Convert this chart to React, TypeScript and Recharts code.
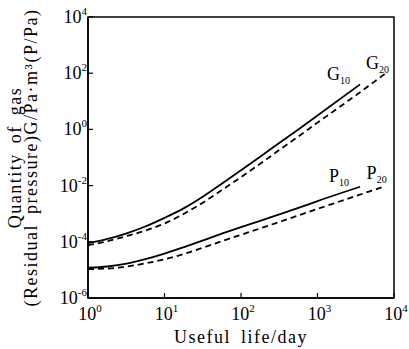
import React from "react";
import { LineChart, Line, XAxis, YAxis, ReferenceArea, ReferenceDot } from "recharts";

const xTicks = [1, 10, 100, 1000, 10000];
const xTickExp = ["0", "1", "2", "3", "4"];
const yTicks = [1e-6, 1e-4, 1e-2, 1, 1e2, 1e4];
const yTickExp = ["-6", "-4", "-2", "0", "2", "4"];

const g10X = [1, 1.8, 3.2, 5.6, 10, 18, 32, 56, 100, 178, 316, 562, 1000, 3600];
const g10Y = [8.9e-5, 1.26e-4, 2.0e-4, 3.5e-4, 7.1e-4, 1.58e-3, 4.1e-3, 1.16e-2, 3.5e-2, 0.107, 0.33, 1.0, 3.1, 40];

const g20X = [1, 1.8, 3.2, 5.6, 10, 18, 32, 56, 100, 178, 316, 562, 1000, 3200, 7600];
const g20Y = [7.6e-5, 1.05e-4, 1.6e-4, 2.5e-4, 4.5e-4, 1.0e-3, 2.5e-3, 6.9e-3, 2.0e-2, 6.0e-2, 0.184, 0.56, 1.74, 16.6, 95];

const p10X = [1, 1.8, 3.2, 5.6, 10, 18, 32, 56, 100, 178, 316, 562, 1000, 3600];
const p10Y = [1.2e-5, 1.32e-5, 1.66e-5, 2.4e-5, 3.8e-5, 6.5e-5, 1.12e-4, 1.95e-4, 3.35e-4, 5.6e-4, 9.4e-4, 1.6e-3, 2.8e-3, 9.1e-3];

const p20X = [1, 1.8, 3.2, 5.6, 10, 18, 32, 56, 100, 178, 316, 562, 1000, 3200, 7100];
const p20Y = [1.07e-5, 1.12e-5, 1.32e-5, 1.7e-5, 2.4e-5, 3.7e-5, 6.2e-5, 1.05e-4, 1.78e-4, 3.0e-4, 5.1e-4, 8.7e-4, 1.48e-3, 4.3e-3, 8.9e-3];

const seriesLabels = [
  { main: "G", sub: "10" },
  { main: "G", sub: "20" },
  { main: "P", sub: "10" },
  { main: "P", sub: "20" },
];

const yTitle1 = "Quantity of gas";
const yTitle2 = "(Residual pressure)G/Pa·m³(P/Pa)";
const xTitle = "Useful life/day";

const build = (xs: number[], ys: number[]) => xs.map((x, i) => ({ x, v: ys[i] }));
const g10 = build(g10X, g10Y);
const g20 = build(g20X, g20Y);
const p10 = build(p10X, p10Y);
const p20 = build(p20X, p20Y);

const FONT = "Liberation Serif, Times New Roman, serif";
const fs = (size: number, extra: any = {}) => ({ fontFamily: FONT, fontSize: size, ...extra });

const XTick = (props: any) => {
  const { x, y, payload } = props;
  const i = xTicks.indexOf(payload.value);
  return (
    <g>
      <line x1={x} y1={y} x2={x} y2={y - 5} stroke="#000" strokeWidth={1.2} />
      <text x={x + 2} y={y + 22} textAnchor="middle" style={fs(18)} fill="#000">
        <tspan>10</tspan>
        <tspan dy={-8} style={fs(11)}>{xTickExp[i]}</tspan>
      </text>
    </g>
  );
};

const YTick = (props: any) => {
  const { x, y, payload } = props;
  const i = yTicks.findIndex((t) => Math.abs(Math.log10(t) - Math.log10(payload.value)) < 1e-6);
  return (
    <g>
      <line x1={x} y1={y} x2={x + 5} y2={y} stroke="#000" strokeWidth={1.2} />
      <text x={x - 1} y={y + 6} textAnchor="end" style={fs(18)} fill="#000">
        <tspan>10</tspan>
        <tspan dy={-8} style={fs(11)}>{yTickExp[i]}</tspan>
      </text>
    </g>
  );
};

const makeSeriesLabel = (idx: number, dx: number, dy: number) => (props: any) => {
  const vb = props.viewBox || {};
  const cx = (vb.x || 0) + (vb.width || 0) / 2;
  const cy = (vb.y || 0) + (vb.height || 0) / 2;
  const l = seriesLabels[idx];
  return (
    <text x={cx + dx} y={cy + dy} style={fs(18)} fill="#000">
      <tspan>{l.main}</tspan>
      <tspan dy={4} style={fs(10)}>{l.sub}</tspan>
    </text>
  );
};

const YTitle = (props: any) => {
  const vb = props.viewBox || { x: 28, y: 17, width: 60, height: 281 };
  const cy = vb.y + vb.height / 2;
  const x1 = vb.x - 13;
  const x2 = vb.x + 3;
  return (
    <g>
      <text
        x={x1}
        y={cy}
        transform={`rotate(-90 ${x1} ${cy})`}
        textAnchor="middle"
        dominantBaseline="central"
        style={fs(18, { letterSpacing: "1.5px", wordSpacing: "4px" })}
        fill="#000"
      >
        {yTitle1}
      </text>
      <text
        x={x2}
        y={cy}
        transform={`rotate(-90 ${x2} ${cy})`}
        textAnchor="middle"
        dominantBaseline="central"
        style={fs(18, { letterSpacing: "1.5px", wordSpacing: "4px" })}
        fill="#000"
      >
        {yTitle2}
      </text>
    </g>
  );
};

const XTitle = (props: any) => {
  const vb = props.viewBox || { x: 88, y: 298, width: 306, height: 30 };
  const cx = vb.x + vb.width / 2;
  return (
    <text
      x={cx}
      y={vb.y + 45}
      textAnchor="middle"
      style={fs(18, { letterSpacing: "1.5px", wordSpacing: "4px" })}
      fill="#000"
    >
      {xTitle}
    </text>
  );
};

export default function App() {
  return (
    <div style={{ position: "absolute", left: 0, top: 0, width: 409, height: 349, background: "#fff", fontFamily: FONT }}>
      <LineChart width={409} height={349} margin={{ top: 17, right: 15, bottom: 21, left: 28 }} style={{ fontFamily: FONT }}>
        <XAxis
          type="number"
          dataKey="x"
          scale="log"
          domain={[1, 10000]}
          ticks={xTicks}
          allowDataOverflow
          tickLine={false}
          tickSize={0}
          tickMargin={0}
          height={30}
          axisLine={{ stroke: "#000", strokeWidth: 1.5 }}
          tick={<XTick />}
          interval={0}
          label={{ content: <XTitle /> } as any}
        />
        <YAxis
          type="number"
          scale="log"
          domain={[1e-6, 1e4]}
          ticks={yTicks}
          allowDataOverflow
          tickLine={false}
          tickSize={0}
          tickMargin={0}
          width={60}
          axisLine={{ stroke: "#000", strokeWidth: 1.5 }}
          tick={<YTick />}
          interval={0}
          label={{ content: <YTitle /> } as any}
        />
        <ReferenceArea
          x1={1}
          x2={10000}
          y1={1e-6}
          y2={1e4}
          fill="none"
          fillOpacity={0}
          stroke="#000"
          strokeWidth={1.5}
          ifOverflow="visible"
        />
        <Line data={g10} dataKey="v" name="G10" type="monotone" stroke="#000" strokeWidth={1.8} dot={false} isAnimationActive={false} />
        <Line data={g20} dataKey="v" name="G20" type="monotone" stroke="#000" strokeWidth={1.8} strokeDasharray="6 4" dot={false} isAnimationActive={false} />
        <Line data={p10} dataKey="v" name="P10" type="monotone" stroke="#000" strokeWidth={1.8} dot={false} isAnimationActive={false} />
        <Line data={p20} dataKey="v" name="P20" type="monotone" stroke="#000" strokeWidth={1.8} strokeDasharray="6 4" dot={false} isAnimationActive={false} />
        <ReferenceDot x={g10X[g10X.length - 1]} y={g10Y[g10Y.length - 1]} r={1} fill="none" stroke="none" ifOverflow="visible" label={{ content: makeSeriesLabel(0, -33, -4) } as any} />
        <ReferenceDot x={g20X[g20X.length - 1]} y={g20Y[g20Y.length - 1]} r={1} fill="none" stroke="none" ifOverflow="visible" label={{ content: makeSeriesLabel(1, -19, -5) } as any} />
        <ReferenceDot x={p10X[p10X.length - 1]} y={p10Y[p10Y.length - 1]} r={1} fill="none" stroke="none" ifOverflow="visible" label={{ content: makeSeriesLabel(2, -31, -5) } as any} />
        <ReferenceDot x={p20X[p20X.length - 1]} y={p20Y[p20Y.length - 1]} r={1} fill="none" stroke="none" ifOverflow="visible" label={{ content: makeSeriesLabel(3, -16, -8) } as any} />
      </LineChart>
    </div>
  );
}
